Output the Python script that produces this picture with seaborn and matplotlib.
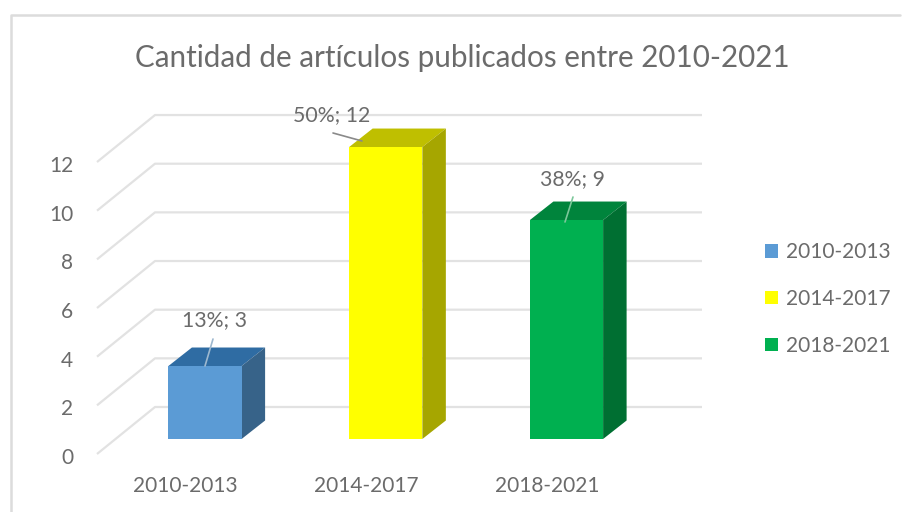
import matplotlib
matplotlib.use("Agg")
import matplotlib.pyplot as plt
from matplotlib.patches import Polygon
import pandas as pd
import seaborn as sns

periods = ["2010-2013", "2014-2017", "2018-2021"]
counts = [3, 12, 9]
shares = ["13%", "50%", "38%"]
axis_ticks = [0, 2, 4, 6, 8, 10, 12]
title_text = "Cantidad de artículos publicados entre 2010-2021"

front_colors = ["#5B9BD5", "#FFFF00", "#00B050"]
top_colors = ["#2F6CA3", "#BFBF00", "#00843C"]
side_colors = ["#376389", "#A6A600", "#006F32"]
GRID = "#E2E2E2"
TEXT = "#6B6B6B"

sns.set_theme(style="white")
plt.rcParams["font.family"] = ["Lato", "DejaVu Sans"]

W, H = 902, 512
X0, UX = 205.0, 180.75   # pixel of first category, pixels per category
Y0, UY = 439.0, 24.33    # pixel of value zero, pixels per unit


def dx(px):
    return (px - X0) / UX


def dy(py):
    return (Y0 - py) / UY


fig = plt.figure(figsize=(W / 100, H / 100), dpi=100, facecolor="white")
left, right, top, bottom = 97, 702, 100, 470
ax = fig.add_axes([left / W, 1 - bottom / H, (right - left) / W, (bottom - top) / H])

table = pd.DataFrame({"periodo": periods, "n": counts})
sns.barplot(
    data=table, x="periodo", y="n", hue="periodo", hue_order=periods,
    palette=front_colors, dodge=False, width=0.405, saturation=1,
    linewidth=0, legend=True, ax=ax, zorder=4,
)
ax.set_xlim(dx(left), dx(right))
ax.set_ylim(dy(bottom), dy(top))
ax.set_xlabel("")
ax.set_ylabel("")
for s in ax.spines.values():
    s.set_visible(False)

# Depth of the box in data units
depth_x = 23.5 / UX
depth_y = 18.5 / UY
half = 0.405 / 2

# Back wall and left wall gridlines
wall_x = dx(155)
wall_shift = dy(407)
floor_x = dx(97)
floor_shift = dy(454)
for v in axis_ticks:
    ax.plot([floor_x, wall_x, dx(702)],
            [v + floor_shift, v + wall_shift, v + wall_shift],
            color=GRID, lw=1.6, zorder=1, solid_capstyle="butt", clip_on=False)

# Top and side faces of each column
for i, n in enumerate(counts):
    l, r = i - half, i + half
    ax.add_patch(Polygon([(l, n), (r, n), (r + depth_x, n + depth_y), (l + depth_x, n + depth_y)],
                         closed=True, fc=top_colors[i], ec="none", zorder=3))
    ax.add_patch(Polygon([(r, 0), (r + depth_x, depth_y), (r + depth_x, n + depth_y), (r, n)],
                         closed=True, fc=side_colors[i], ec="none", zorder=3))

# Data labels with leader lines
label_px = [(215, 320), (332, 115), (572, 179)]
leaders_px = [((213, 339), (205, 366)), ((333, 133), (362, 141)), ((573, 197), (565, 222))]
leader_colors = ["#9DB8CF", "#8A8A8A", "#7CC79A"]
for i, n in enumerate(counts):
    ax.text(dx(label_px[i][0]), dy(label_px[i][1]), f"{shares[i]}; {n}",
            ha="center", va="center", color=TEXT, fontsize=15.3, zorder=6)
    a, b = leaders_px[i]
    ax.plot([dx(a[0]), dx(b[0])], [dy(a[1]), dy(b[1])],
            color=leader_colors[i], lw=1.2, zorder=5)

# Axis labels sit on the front edge of the floor plane
ax.set_yticks([v + dy(456) for v in axis_ticks], [str(v) for v in axis_ticks])
ax.set_xticks([i + dx(185.5) for i in range(len(periods))], periods)
ax.tick_params(axis="y", length=0, pad=17, labelsize=15, labelcolor=TEXT)
ax.tick_params(axis="x", length=0, pad=4, labelsize=15, labelcolor=TEXT)

# Legend
handles, labels = ax.get_legend_handles_labels()
ax.get_legend().remove()
fig.legend(handles, labels, loc="center left", bbox_to_anchor=(765 / W, 1 - 299 / H),
           frameon=False, handlelength=0.62, handleheight=0.62, handletextpad=0.38,
           labelspacing=1.28, fontsize=15, labelcolor=TEXT, borderpad=0, borderaxespad=0)

fig.text(462.5 / W, 1 - 58 / H, title_text, ha="center", va="center",
         fontsize=21.3, color=TEXT)

# Chart frame along the top and left edges
fig.add_artist(plt.Line2D([10.5 / W, 10.5 / W, 900 / W], [0, 1 - 15 / H, 1 - 15 / H],
                          color="#DCDCDC", lw=1.8))

fig.savefig("out.png", dpi=100)
